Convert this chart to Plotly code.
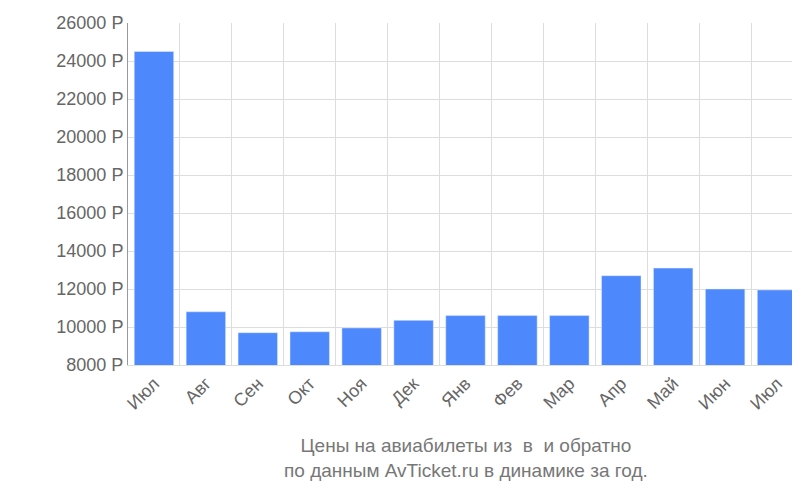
import plotly.graph_objects as go

months = ["Июл","Авг","Сен","Окт","Ноя","Дек","Янв","Фев","Мар","Апр","Май","Июн","Июл"]
prices = [24500,10800,9700,9750,9950,10350,10600,10600,10600,12700,13100,12000,11950]
ytick_vals = list(range(8000, 26001, 2000))
ytick_text = [f"{v} Р" for v in ytick_vals]

x = list(range(len(months)))
fig = go.Figure(go.Bar(x=x, y=prices, marker_color="#4d88fc", width=0.76))
fig.update_layout(
    width=800, height=500, autosize=False, plot_bgcolor="white", paper_bgcolor="white",
    margin=dict(l=120, r=5, t=15, b=143),
    font=dict(family="Liberation Sans, Arial", size=18, color="#666"),
    showlegend=False,
    annotations=[dict(text="Цены на авиабилеты из  в  и обратно<br>по данным AvTicket.ru в динамике за год.",
                      x=0.5, xanchor="center", xref="paper", y=-0.2, yref="paper", yanchor="top",
                      showarrow=False, font=dict(size=19, color="#777"))],
)
fig.update_xaxes(range=[-0.5, len(months)-0.5], tickvals=x, ticktext=months, tickangle=-45,
                 automargin=False, showgrid=False, ticks="", showline=True, linecolor="#ddd",
                 minor=dict(tickvals=[i+0.5 for i in range(-1, len(months))], showgrid=True, gridcolor="#ddd"))
fig.update_yaxes(range=[8000, 26000], tickvals=ytick_vals, ticktext=ytick_text, automargin=False,
                 showgrid=True, gridcolor="#ddd", showline=True, linecolor="#999", ticks="")
fig.write_html("out.html")
